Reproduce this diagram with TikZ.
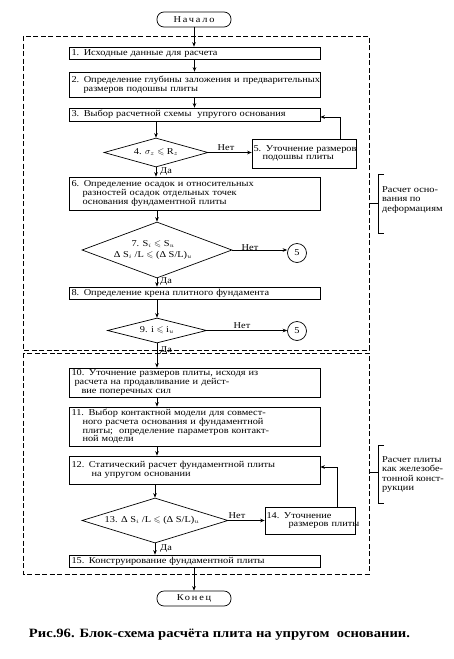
\documentclass[tikz,border=0pt]{standalone}
\usepackage{amssymb}
\usepackage{graphicx}
\usepackage{fontspec}
\setmainfont{Liberation Serif}[FakeStretch=1.15]
\usetikzlibrary{shapes.geometric,arrows.meta}
\newcommand\bxfont{\fontsize{9}{8.6}\selectfont}
\newcommand\lblfont{\fontsize{9}{9.4}\selectfont}
\tikzset{
  box/.style={draw,line width=0.7pt,rectangle,inner xsep=2.5pt,inner ysep=0pt,align=left,font=\bxfont},
  mainbox/.style={box,text width=246pt},
  term/.style={draw,line width=0.7pt,rectangle,rounded corners=7pt,minimum width=74pt,minimum height=15pt,inner sep=0pt,font=\bxfont},
  dia/.style={draw,line width=0.7pt,diamond,inner sep=0pt},
  dtxt/.style={inner sep=0pt,align=center,font=\bxfont},
  conn/.style={circle,draw,line width=0.7pt,minimum size=19pt,inner sep=0pt,font=\bxfont},
  arr/.style={line width=0.7pt,-{Stealth[length=4.5pt,width=3.6pt]}},
  ln/.style={line width=0.6pt},
  frame/.style={line width=0.6pt,dash pattern=on 5pt off 2.5pt},
  yn/.style={inner sep=0pt,font=\bxfont},
  side/.style={inner sep=0pt,align=left,font=\lblfont,anchor=west},
}
\begin{document}
\begin{tikzpicture}[x=1pt,y=-1pt]
\useasboundingbox (0,0) rectangle (454,659);
% dashed frames
\draw[frame] (23,36) rectangle (369,350);
\draw[frame] (23,353) rectangle (369,574);

\node[term] (start) at (194,19.5) {\addfontfeature{LetterSpace=20}Начало};
\node[mainbox,minimum height=12pt] (b1) at (194.5,53) {1. Исходные данные для расчета};
\node[mainbox,minimum height=25pt] (b2) at (194.5,84.5) {\mbox{2. Определение глубины заложения и предварительных}\\\hspace*{12pt}размеров подошвы плиты};
\node[mainbox,minimum height=13pt] (b3) at (194.5,114.5) {3. Выбор расчетной схемы\ \ упругого основания};
\node[dia,minimum width=104pt,minimum height=29pt] (d4) at (156,152.5) {};
\node[dtxt] (d4t) at (d4) {4. $\sigma_z \leqslant$ R$_z$};
\node[box,text width=101pt,inner xsep=1.5pt,minimum height=29pt] (b5) at (304,153.5) {\mbox{5. Уточнение размеров}\\\hspace*{9pt}\mbox{подошвы плиты}};
\node[mainbox,minimum height=33pt] (b6) at (194.5,193.5) {6. Определение осадок и относительных\\\hspace*{11pt}разностей осадок отдельных точек\\\hspace*{11pt}основания фундаментной плиты};
\node[dia,minimum width=150pt,minimum height=56pt] (d7) at (157,250) {};
\node[dtxt,font=\fontsize{9}{10.5}\selectfont] (d7t) at (153,250) {7. S$_i \leqslant$ S$_u$\\Δ S$_i$ /L $\leqslant$ (Δ S/L)$_u$};
\node[conn] (c1) at (297,253) {5};
\node[mainbox,minimum height=12pt] (b8) at (194.5,293) {8. Определение крена плитного фундамента};
\node[dia,minimum width=99pt,minimum height=25pt] (d9) at (157,330.5) {};
\node[dtxt] (d9t) at (d9) {9. i $\leqslant$ i$_u$};
\node[conn] (c2) at (297,331) {5};
\node[mainbox,minimum height=29pt] (b10) at (194.5,382.5) {10. Уточнение размеров плиты, исходя из\\\hspace*{3pt}расчета на продавливание и дейст-\\\hspace*{10pt}вие поперечных сил};
\node[mainbox,minimum height=39pt] (b11) at (194.5,426.5) {11. Выбор контактной модели для совмест-\\\hspace*{11pt}ного расчета основания и фундаментной\\\hspace*{11pt}плиты;\ \ определение параметров контакт-\\\hspace*{11pt}ной модели};
\node[mainbox,minimum height=28pt] (b12) at (194.5,470) {12. Статический расчет фундаментной плиты\\\hspace*{20pt}на упругом основании};
\node[dia,minimum width=146pt,minimum height=45pt] (d13) at (155,520.5) {};
\node[dtxt] (d13t) at (152,520.5) {13. Δ S$_i$ /L $\leqslant$ (Δ S/L)$_u$};
\node[box,text width=87pt,inner xsep=1.5pt,minimum height=27pt] (b14) at (310,520.5) {\mbox{14. Уточнение}\\\hspace*{22pt}\mbox{размеров плиты}};
\node[mainbox,minimum height=12pt] (b15) at (194.5,561) {15. Конструирование фундаментной плиты};
\node[term] (end) at (194,598.5) {\addfontfeature{LetterSpace=20}Конец};

% main flow
\draw[arr] (start.south) -- (start.south |- b1.north);
\draw[arr] (b1.south) -- (b2.north);
\draw[arr] (b2.south) -- (b3.north);
\draw[arr] (b3.south -| d4.north) -- (d4.north);
\draw[arr] (d4.south) -- (d4.south |- b6.north);
\draw[arr] (b6.south -| d7.north) -- (d7.north);
\draw[arr] (d7.south) -- (d7.south |- b8.north);
\draw[arr] (b8.south -| d9.north) -- (d9.north);
\draw[arr] (d9.south) -- (d9.south |- b10.north);
\draw[arr] (b10.south -| d9.south) -- (b11.north -| d9.south);
\draw[arr] (b11.south -| d9.south) -- (b12.north -| d9.south);
\draw[arr] (b12.south -| d13.north) -- (d13.north);
\draw[arr] (d13.south) -- (d13.south |- b15.north);
\draw[arr] (b15.south -| end.north) -- (end.north);

% no branches
\draw[arr] (d4.east) -- (d4.east -| b5.west);
\draw[arr] (d7.east) -- (d7.east -| c1.west);
\draw[arr] (d9.east) -- (d9.east -| c2.west);
\draw[arr] (d13.east) -- (d13.east -| b14.west);

% feedback
\coordinate (k5) at (340,117);
\draw[arr] (k5 |- b5.north) -- (k5) -- (k5 -| b3.east);
\coordinate (k14) at (337,467);
\draw[arr] (k14 |- b14.north) -- (k14) -- (k14 -| b12.east);

% labels
\node[yn,anchor=west] (y4) at (160,172) {Да};
\node[yn,anchor=west] (y7) at (160,282) {Да};
\node[yn,anchor=west] (y9) at (160,351) {Да};
\node[yn,anchor=west] (y13) at (160,549) {Да};
\node[yn,anchor=south] (n4) at (226,151) {Нет};
\node[yn,anchor=south] (n7) at (250,251) {Нет};
\node[yn,anchor=south] (n9) at (242,329) {Нет};
\node[yn,anchor=south] (n13) at (237,519) {Нет};

% side brackets
\node[side] (s1) at (382,200) {Расчет осно-\\вания по\\деформациям};
\draw[ln] (384,174) -- (378,174) -- (378,233) -- (384,233);
\coordinate (t1) at (369,203);
\draw[ln] (t1) -- (t1 -| 378,0);
\node[side] (s2) at (382,474.5) {Расчет плиты\\как железобе-\\тонной конст-\\рукции};
\draw[ln] (384,445) -- (378,445) -- (378,503) -- (384,503);
\coordinate (t2) at (369,472);
\draw[ln] (t2) -- (t2 -| 378,0);

% caption
\node (cap) at (219.5,635) {\resizebox{381pt}{!}{\bfseries\fontsize{14}{16}\selectfont Рис.96. Блок-схема расчёта плита на упругом\ \ основании.}};
\end{tikzpicture}
\end{document}
